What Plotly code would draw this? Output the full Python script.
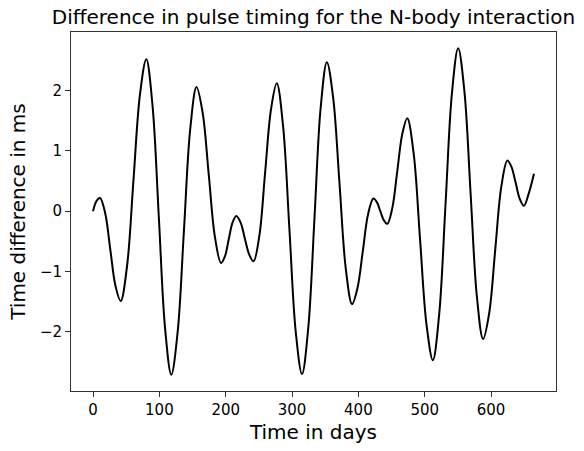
import plotly.graph_objects as go

# Time in days
t_days = [0, 5.2, 10.5, 18.3, 26.1, 33.9, 41.7, 51.4, 61.0, 70.7, 80.3,
          89.7, 99.2, 108.6, 118, 127.5, 137, 146.5, 156, 165.3, 174.5,
          183.8, 193, 198.8, 204.5, 210.3, 216, 222.5, 229, 235.5, 242,
          250.8, 259.5, 268.3, 277, 286.5, 296, 305.5, 315, 324.4, 333.8,
          343.1, 352.5, 362, 371.5, 381, 390.5, 398.5, 406.6, 414.6, 422.6,
          427.9, 433.1, 438.4, 443.6, 451.1, 458.7, 466.2, 473.7, 483.4, 493,
          502.7, 512.3, 521.8, 531.4, 540.9, 550.4, 559.8, 569.2, 578.6, 588,
          597.2, 606.3, 615.5, 624.6, 630.9, 637.1, 643.4, 649.6, 657, 664.7]

# Time difference in ms
dt_ms = [0, 0.17, 0.22, -0.03, -0.64, -1.24, -1.49, -0.90, 0.52, 1.93, 2.52,
         1.75, -0.10, -1.94, -2.71, -2.01, -0.33, 1.36, 2.06, 1.63, 0.60,
         -0.43, -0.86, -0.75, -0.47, -0.19, -0.08, -0.19, -0.46, -0.72, -0.83,
         -0.40, 0.65, 1.69, 2.12, 1.41, -0.29, -1.99, -2.70, -1.94, -0.12,
         1.71, 2.47, 1.88, 0.47, -0.95, -1.54, -1.28, -0.67, -0.05, 0.21,
         0.15, 0.00, -0.15, -0.21, 0.05, 0.67, 1.28, 1.54, 0.95, -0.47,
         -1.88, -2.47, -1.71, 0.12, 1.94, 2.70, 1.99, 0.29, -1.41, -2.12,
         -1.69, -0.64, 0.41, 0.84, 0.73, 0.47, 0.20, 0.09, 0.30, 0.62]

x_tick_vals = [0, 100, 200, 300, 400, 500, 600]
x_tick_text = ["0", "100", "200", "300", "400", "500", "600"]
y_tick_vals = [-2, -1, 0, 1, 2]
y_tick_text = ["\u22122", "\u22121", "0", "1", "2"]

assert len(t_days) == len(dt_ms)

FONT = "DejaVu Sans"

fig = go.Figure()
fig.add_trace(go.Scatter(
    x=t_days, y=dt_ms, mode="lines",
    line=dict(color="black", width=2, shape="spline", smoothing=1.0),
    showlegend=False, hoverinfo="skip",
))

axis_common = dict(
    showline=True, linecolor="#333333", linewidth=1, mirror=True,
    showgrid=False, zeroline=False,
    ticks="outside", ticklen=5, tickwidth=1, tickcolor="#333333",
    tickfont=dict(family=FONT, size=15, color="black"),
)

fig.update_layout(
    width=584, height=451,
    margin=dict(l=71, r=28, t=32, b=57),
    paper_bgcolor="white", plot_bgcolor="white",
    font=dict(family=FONT, color="black"),
    title=dict(
        text="Difference in pulse timing for the N-body interaction",
        font=dict(family=FONT, size=20, color="black"),
        x=0.5, xref="paper", xanchor="center",
        y=1, yref="paper", yanchor="bottom", pad=dict(b=8),
    ),
    xaxis=dict(
        range=[-33.2, 697.9], tickvals=x_tick_vals, ticktext=x_tick_text,
        title=dict(text="Time in days", font=dict(family=FONT, size=20, color="black"),
                   standoff=6),
        **axis_common,
    ),
    yaxis=dict(
        range=[-2.98, 2.97], tickvals=y_tick_vals, ticktext=y_tick_text,
        title=dict(text="Time difference in ms", font=dict(family=FONT, size=20, color="black"),
                   standoff=8),
        **axis_common,
    ),
)

fig.write_html("out.html")
